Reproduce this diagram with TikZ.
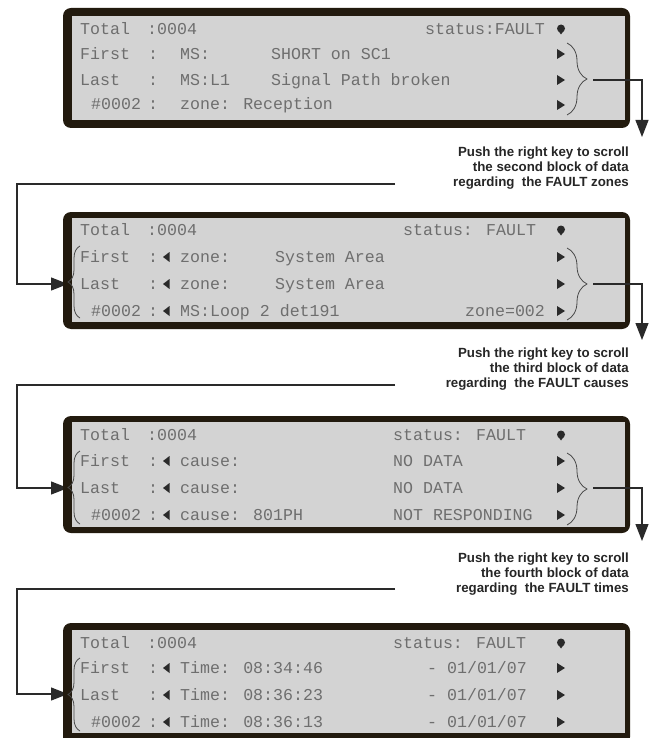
\documentclass[tikz,border=0pt]{standalone}
\usepackage{fontspec}
\usetikzlibrary{arrows.meta,decorations.pathreplacing}
\newfontfamily\lcdfont{Liberation Mono}
\newfontfamily\notefont{Liberation Sans}
\definecolor{bezel}{HTML}{221A0E}
\definecolor{screen}{HTML}{D3D3D3}
\definecolor{lcdtxt}{HTML}{6E6E6E}
\definecolor{linec}{HTML}{2A2A2A}
\tikzset{
  bezelbox/.style={shape=rectangle, fill=bezel, draw=none, rounded corners=8pt, inner sep=0pt, outer sep=0pt},
  screenbox/.style={shape=rectangle, fill=screen, draw=none, inner sep=0pt, outer sep=0pt},
  lcd/.style={font=\lcdfont\fontsize{16.6}{16.6}\selectfont, text=lcdtxt, anchor=base west, yshift=-5.5pt, inner sep=0pt},
  note/.style={font=\notefont\bfseries\fontsize{13.3}{15}\selectfont, align=right, anchor=east, inner sep=0pt, text=black!85},
  conn/.style={draw=linec, line width=1.2pt},
  arr/.style={conn, -{Triangle[length=17pt,width=13pt]}},
  bracel/.style={draw=linec!85, line width=0.8pt, decorate, decoration={brace, amplitude=12pt}},
  bracer/.style={draw=linec!85, line width=0.8pt, decorate, decoration={brace, amplitude=20pt}},
  keyfill/.style={fill=linec}
}
\newcommand\rtri[1]{\fill[keyfill] (557,#1-5) -- (565,#1) -- (557,#1+5) -- cycle;}
\newcommand\ltri[1]{\fill[keyfill] (169.5,#1-5) -- (163,#1) -- (169.5,#1+5) -- cycle;}
\newcommand\bulb[1]{\fill[keyfill] (561,#1-0.5) circle (4pt);
  \fill[keyfill] (558.5,#1+2) -- (563.5,#1+2) -- (561,#1+5.5) -- cycle;}
\begin{document}
\begin{tikzpicture}[x=1pt,y=-1pt]
\useasboundingbox (0,0) rectangle (654,738);
\fill[white] (0,0) rectangle (654,738);

% ---------- panel 1 ----------
\node[bezelbox, minimum width=567pt, minimum height=120pt] (b1) at (346.5,68) {};
\node[screenbox, minimum width=553pt, minimum height=104pt] (s1) at (348.5,68) {};
\node[lcd] (p1a) at (80,29) {Total};
\node[lcd] (p1b) at (147,29) {:0004};
\node[lcd] (p1c) at (425,29) {status:FAULT};
\node[lcd] (p1d) at (80,54) {First};
\node[lcd] (p1e) at (148,54) {:};
\node[lcd] (p1f) at (180,54) {MS:};
\node[lcd] (p1g) at (271,54) {SHORT on SC1};
\node[lcd] (p1h) at (80,80) {Last};
\node[lcd] (p1i) at (148,80) {:};
\node[lcd] (p1j) at (180,80) {MS:L1};
\node[lcd] (p1k) at (271,80) {Signal Path broken};
\node[lcd] (p1l) at (91,104) {\#0002};
\node[lcd] (p1m) at (148,104) {:};
\node[lcd] (p1n) at (180,104) {zone: Reception};
\bulb{29}
\rtri{54}\rtri{80}\rtri{105}
\draw[bracer] (567,43) -- (567,115);
\coordinate (r1) at (593,80);
\coordinate (d1) at (642,137);
\draw[arr] (r1) -| (d1);
\node[note] (t1) at (629,168) {Push the right key to scroll\\the second block of data\\regarding~ the FAULT zones};

% ---------- panel 2 ----------
\coordinate (lx) at (17,0);
\coordinate (l1s) at (395,184);
\coordinate (l1e) at (68,284);
\draw[arr] (l1s) -- (l1s -| lx) |- (l1e);
\node[bezelbox, minimum width=567pt, minimum height=117pt] (b2) at (346.5,270.5) {};
\node[screenbox, minimum width=553pt, minimum height=104pt] (s2) at (348.5,270) {};
\node[lcd] (p2a) at (80,230) {Total};
\node[lcd] (p2b) at (147,230) {:0004};
\node[lcd] (p2c) at (403,230) {status: FAULT};
\node[lcd] (p2d) at (80,257) {First};
\node[lcd] (p2e) at (148,257) {:};
\node[lcd] (p2f) at (180,257) {zone:};
\node[lcd] (p2g) at (275,257) {System Area};
\node[lcd] (p2h) at (80,284) {Last};
\node[lcd] (p2i) at (148,284) {:};
\node[lcd] (p2j) at (180,284) {zone:};
\node[lcd] (p2k) at (275,284) {System Area};
\node[lcd] (p2l) at (91,311) {\#0002};
\node[lcd] (p2m) at (148,311) {:};
\node[lcd] (p2n) at (180,311) {MS:Loop 2 det191};
\node[lcd] (p2o) at (465,311) {zone=002};
\bulb{230}
\ltri{257}\ltri{284}\ltri{311}
\rtri{257}\rtri{284}\rtri{311}
\draw[bracel] (80,318) -- (80,246);
\draw[bracer] (567,248) -- (567,320);
\coordinate (r2) at (593,284);
\coordinate (d2) at (642,340);
\draw[arr] (r2) -| (d2);
\node[note] (t2) at (629,369) {Push the right key to scroll\\the third block of data\\regarding~ the FAULT causes};

% ---------- panel 3 ----------
\coordinate (l2s) at (395,385);
\coordinate (l2e) at (68,488);
\draw[arr] (l2s) -- (l2s -| lx) |- (l2e);
\node[bezelbox, minimum width=567pt, minimum height=117pt] (b3) at (346.5,474.5) {};
\node[screenbox, minimum width=553pt, minimum height=105pt] (s3) at (348.5,474.5) {};
\node[lcd] (p3a) at (80,435) {Total};
\node[lcd] (p3b) at (147,435) {:0004};
\node[lcd] (p3c) at (393,435) {status: FAULT};
\node[lcd] (p3d) at (80,461) {First};
\node[lcd] (p3e) at (148,461) {:};
\node[lcd] (p3f) at (180,461) {cause:};
\node[lcd] (p3g) at (393,461) {NO DATA};
\node[lcd] (p3h) at (80,488) {Last};
\node[lcd] (p3i) at (148,488) {:};
\node[lcd] (p3j) at (180,488) {cause:};
\node[lcd] (p3k) at (393,488) {NO DATA};
\node[lcd] (p3l) at (91,515) {\#0002};
\node[lcd] (p3m) at (148,515) {:};
\node[lcd] (p3n) at (180,515) {cause: 801PH};
\node[lcd] (p3o) at (393,515) {NOT RESPONDING};
\bulb{435}
\ltri{461}\ltri{488}\ltri{515}
\rtri{461}\rtri{488}\rtri{515}
\draw[bracel] (80,524) -- (80,451);
\draw[bracer] (567,453) -- (567,525);
\coordinate (r3) at (593,488);
\coordinate (d3) at (642,541);
\draw[arr] (r3) -| (d3);
\node[note] (t3) at (629,574) {Push the right key to scroll\\the fourth block of data\\regarding~ the FAULT times};

% ---------- panel 4 ----------
\coordinate (l3s) at (395,589);
\coordinate (l3e) at (68,694);
\draw[arr] (l3s) -- (l3s -| lx) |- (l3e);
\node[bezelbox, minimum width=567pt, minimum height=122pt] (b4) at (346.5,684) {};
\node[screenbox, minimum width=553pt, minimum height=103pt] (s4) at (348.5,681.5) {};
\node[lcd] (p4a) at (80,643) {Total};
\node[lcd] (p4b) at (147,643) {:0004};
\node[lcd] (p4c) at (393,643) {status: FAULT};
\node[lcd] (p4d) at (80,668) {First};
\node[lcd] (p4e) at (148,668) {:};
\node[lcd] (p4f) at (180,668) {Time: 08:34:46};
\node[lcd] (p4g) at (427,668) {- 01/01/07};
\node[lcd] (p4h) at (80,695) {Last};
\node[lcd] (p4i) at (148,695) {:};
\node[lcd] (p4j) at (180,695) {Time: 08:36:23};
\node[lcd] (p4k) at (427,695) {- 01/01/07};
\node[lcd] (p4l) at (91,722) {\#0002};
\node[lcd] (p4m) at (148,722) {:};
\node[lcd] (p4n) at (180,722) {Time: 08:36:13};
\node[lcd] (p4o) at (427,722) {- 01/01/07};
\bulb{643}
\ltri{668}\ltri{695}\ltri{722}
\rtri{668}\rtri{695}\rtri{722}
\draw[bracel] (80,731) -- (80,658);
\end{tikzpicture}
\end{document}
